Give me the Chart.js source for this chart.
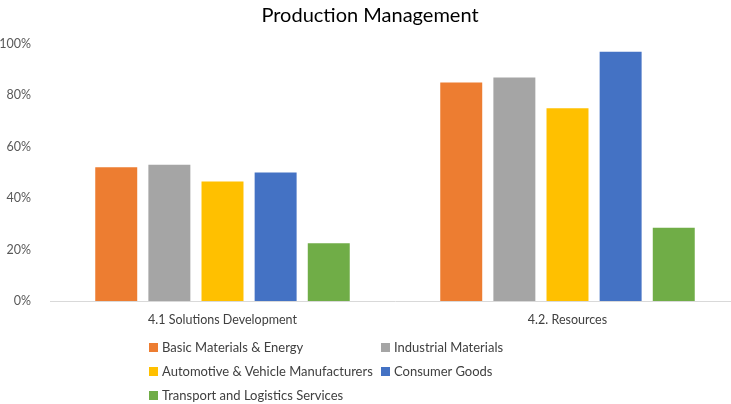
<!DOCTYPE html>
<html>
<head>
<meta charset="utf-8">
<script src="https://cdn.jsdelivr.net/npm/chart.js@4"></script>
<style>
  html, body { margin: 0; padding: 0; background: #fff; overflow: hidden; }
  #wrap { position: relative; width: 740px; height: 404px; }
  #legend {
    position: absolute; left: 149px; top: 338px;
    display: grid; grid-template-columns: 232px 200px; row-gap: 6px;
    font-family: Lato, sans-serif; font-size: 13px; color: #404040;
  }
  #legend span.sw { display: inline-block; width: 9px; height: 9px; margin-right: 4px; }
  #legend div { height: 18px; line-height: 18px; white-space: nowrap; }
</style>
</head>
<body>
<div id="wrap">
  <canvas id="productionChart" width="740" height="404"></canvas>
  <div id="legend"></div>
</div>
<script>
const categories = ['4.1 Solutions Development', '4.2. Resources'];
const seriesNames = [
  'Basic Materials & Energy',
  'Industrial Materials',
  'Automotive & Vehicle Manufacturers',
  'Consumer Goods',
  'Transport and Logistics Services'
];
const basicMaterials = [52, 85];
const industrialMaterials = [53, 87];
const automotive = [46.5, 75];
const consumerGoods = [50, 97];
const transport = [22.5, 28.5];
const colors = ['#ed7d31', '#a5a5a5', '#ffc000', '#4472c4', '#70ad47'];
const yTicks = [0, 20, 40, 60, 80, 100];

const values = [basicMaterials, industrialMaterials, automotive, consumerGoods, transport];

const ctx = document.getElementById('productionChart');

new Chart(ctx, {
  type: 'bar',
  data: {
    labels: categories,
    datasets: seriesNames.map((name, i) => ({
      label: name,
      data: values[i],
      backgroundColor: colors[i],
      barPercentage: 0.79,
      categoryPercentage: 0.77
    }))
  },
  options: {
    responsive: false,
    animation: false,
    maintainAspectRatio: false,
    layout: { padding: { top: 4, bottom: 74, right: 0, left: 0 } },
    plugins: {
      legend: { display: false },
      tooltip: { enabled: false },
      title: {
        display: true,
        text: 'Production Management',
        color: '#000',
        font: { family: 'Lato, sans-serif', size: 20, weight: 'normal' },
        padding: { top: 0, bottom: 16 }
      }
    },
    scales: {
      x: {
        grid: { display: false },
        border: { display: true, color: '#d9d9d9' },
        ticks: { color: '#404040', font: { family: 'Lato, sans-serif', size: 12.5 }, padding: 3 }
      },
      y: {
        min: 0,
        max: 100,
        afterBuildTicks: (scale) => { scale.ticks = yTicks.map(v => ({ value: v })); },
        afterFit: (scale) => { scale.width = 50; },
        grid: { display: false },
        border: { display: false },
        ticks: {
          color: '#595959',
          font: { family: 'Lato, sans-serif', size: 12.5 },
          padding: 11,
          callback: (v) => v + '%'
        }
      }
    }
  }
});

// legend in two columns like the original
const legend = document.getElementById('legend');
seriesNames.forEach((name, i) => {
  const item = document.createElement('div');
  item.innerHTML = '<span class="sw" style="background:' + colors[i] + '"></span>' + name;
  legend.appendChild(item);
});
</script>
</body>
</html>
